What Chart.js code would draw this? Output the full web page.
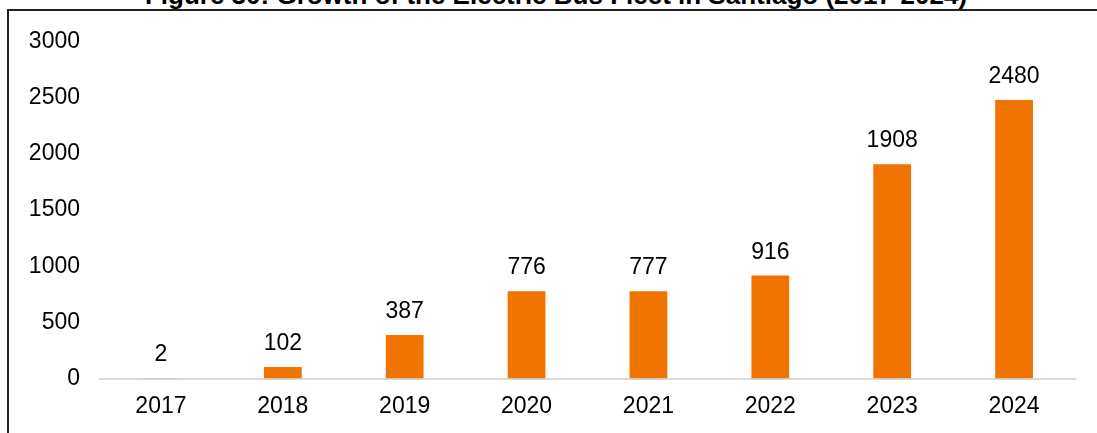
<!DOCTYPE html>
<html>
<head>
<meta charset="utf-8">
<script src="https://cdn.jsdelivr.net/npm/chart.js@4.4.1/dist/chart.umd.min.js"></script>
<style>
    body { margin: 0; background: #fff; overflow: hidden; }
    #wrap { position: relative; width: 1097px; height: 433px; overflow: hidden; }
    #frame {
        position: absolute; left: 7px; top: 9px; width: 1200px; height: 600px;
        border-left: 2px solid #222; border-top: 2px solid #222;
    }
    #title {
        position: absolute; left: 0; width: 1112px; top: -18px;
        text-align: center; font: bold 26px "Liberation Sans", Arial, sans-serif;
        line-height: 26px; color: #000; white-space: nowrap;
    }
    canvas { position: absolute; left: 0; top: 0; }
</style>
</head>
<body>
<div id="wrap">
    <div id="title">Figure 30: Growth of the Electric Bus Fleet in Santiago (2017-2024)</div>
    <div id="frame"></div>
    <canvas id="bus-chart" width="1097" height="433"></canvas>
</div>
<script>
// datos del gráfico
const years = ['2017', '2018', '2019', '2020', '2021', '2022', '2023', '2024'];
const buses = [2, 102, 387, 776, 777, 916, 1908, 2480];
const yTicks = [0, 500, 1000, 1500, 2000, 2500, 3000];

const FONT = { family: '"Liberation Sans", Arial, sans-serif', size: 23 };

// etiquetas encima de cada barra
const valueLabels = {
    id: 'valueLabels',
    afterDatasetsDraw(chart) {
        const ctx = chart.ctx;
        const meta = chart.getDatasetMeta(0);
        ctx.save();
        ctx.font = FONT.size + 'px ' + FONT.family;
        ctx.fillStyle = '#000';
        ctx.textAlign = 'center';
        ctx.textBaseline = 'alphabetic';
        meta.data.forEach(function(bar, i) {
            ctx.fillText(String(buses[i]), bar.x, bar.y - 17);
        });
        ctx.restore();
    }
};

const ctx = document.getElementById('bus-chart').getContext('2d');
new Chart(ctx, {
    type: 'bar',
    data: {
        labels: years,
        datasets: [{
            data: buses,
            backgroundColor: '#F07500',
            categoryPercentage: 1,
            barPercentage: 0.31
        }]
    },
    options: {
        responsive: false,
        animation: false,
        layout: { padding: { top: 41.5, right: 22, left: 0, bottom: 0 } },
        plugins: {
            legend: { display: false },
            tooltip: { enabled: false }
        },
        scales: {
            x: {
                grid: { display: false, drawTicks: false },
                border: { display: true, color: '#d9d9d9', width: 2 },
                ticks: { color: '#000', font: FONT, padding: 14 },
                afterFit(scale) { scale.height = 54.5; }
            },
            y: {
                min: 0,
                max: 3000,
                afterBuildTicks(scale) {
                    scale.ticks = yTicks.map(v => ({ value: v }));
                },
                grid: { display: false, drawTicks: false },
                border: { display: false },
                ticks: {
                    color: '#000',
                    font: FONT,
                    padding: 20,
                    callback: function(value) { return String(value); }
                },
                afterFit(scale) { scale.width = 100; }
            }
        }
    },
    plugins: [valueLabels]
});
</script>
</body>
</html>
